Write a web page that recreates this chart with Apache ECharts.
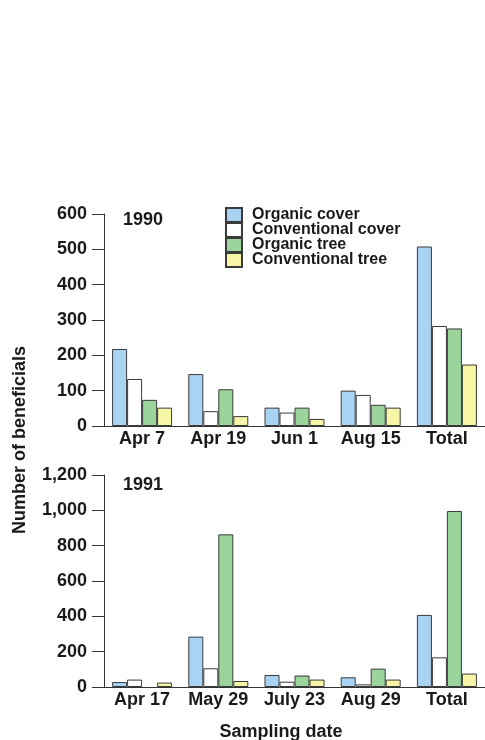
<!DOCTYPE html>
<html>
<head>
<meta charset="utf-8">
<script src="https://cdn.jsdelivr.net/npm/echarts@6/dist/echarts.min.js"></script>
<style>
html,body{margin:0;padding:0;background:#fff;}
#chart{width:485px;height:740px;}
</style>
</head>
<body>
<div id="chart"></div>
<script>
// ---- data ----
var seriesNames = ['Organic cover', 'Conventional cover', 'Organic tree', 'Conventional tree'];
var cats1990 = ['Apr 7', 'Apr 19', 'Jun 1', 'Aug 15', 'Total'];
var organicCover1990 = [218, 147, 52, 100, 508];
var conventionalCover1990 = [133, 42, 38, 88, 283];
var organicTree1990 = [74, 104, 52, 60, 276];
var conventionalTree1990 = [52, 28, 20, 52, 174];
var yTicks1990 = [0, 100, 200, 300, 400, 500, 600];

var cats1991 = ['Apr 17', 'May 29', 'July 23', 'Aug 29', 'Total'];
var organicCover1991 = [28, 285, 68, 55, 408];
var conventionalCover1991 = [42, 106, 30, 15, 168];
var organicTree1991 = [null, 864, 65, 104, 996];
var conventionalTree1991 = [25, 34, 42, 42, 76];
var yTicks1991 = [0, 200, 400, 600, 800, 1000, 1200];

var yTitle = 'Number of beneficials';
var xTitle = 'Sampling date';
var panelLabels = ['1990', '1991'];

// ---- styling ----
var FONT = '"Liberation Sans", Arial, Helvetica, sans-serif';
var TXT = '#1a1a1a';
var colors = ['#a9d3f3', '#ffffff', '#9bd59b', '#f7f5a6'];
var BORDER = '#3a3a3a';

function fmt(v) { return Number(v).toLocaleString('en-US'); }

function xAxisCfg(idx, cats) {
  return {
    type: 'category', gridIndex: idx, data: cats,
    axisLine: { show: true, lineStyle: { color: '#333', width: 1 } },
    axisTick: { show: false },
    axisLabel: { color: TXT, fontFamily: FONT, fontWeight: 'bold', fontSize: 18, margin: 4, interval: 0, hideOverlap: false },
    splitLine: { show: false }
  };
}
function yAxisCfg(idx, ticks) {
  return {
    type: 'value', gridIndex: idx,
    min: ticks[0], max: ticks[ticks.length - 1], interval: ticks[1] - ticks[0],
    axisLine: { show: true, lineStyle: { color: '#333', width: 1 } },
    axisTick: { show: true, inside: false, length: 12, lineStyle: { color: '#333', width: 1 } },
    axisLabel: { color: TXT, fontFamily: FONT, fontWeight: 'bold', fontSize: 18, margin: 17, formatter: fmt },
    splitLine: { show: false }
  };
}

var data1990 = [organicCover1990, conventionalCover1990, organicTree1990, conventionalTree1990];
var data1991 = [organicCover1991, conventionalCover1991, organicTree1991, conventionalTree1991];

var series = [];
[data1990, data1991].forEach(function (set, gi) {
  set.forEach(function (vals, si) {
    series.push({
      name: seriesNames[si], type: 'bar', xAxisIndex: gi, yAxisIndex: gi,
      data: vals, barWidth: 15, barGap: '0%',
      itemStyle: { color: colors[si], borderColor: BORDER, borderWidth: 1 },
      emphasis: { disabled: true },
      animation: false
    });
  });
});

var chart = echarts.init(document.getElementById('chart'), null, { renderer: 'canvas' });
chart.setOption({
  backgroundColor: '#ffffff',
  animation: false,
  grid: [
    { left: 104, right: 0, top: 214, height: 212, containLabel: false },
    { left: 104, right: 0, top: 475, height: 212, containLabel: false }
  ],
  xAxis: [xAxisCfg(0, cats1990), xAxisCfg(1, cats1991)],
  yAxis: [yAxisCfg(0, yTicks1990), yAxisCfg(1, yTicks1991)],
  legend: {
    data: seriesNames, orient: 'vertical', left: 225, top: 207,
    padding: 0, itemGap: -1, itemWidth: 16, itemHeight: 14,
    icon: 'rect',
    textStyle: { color: TXT, fontFamily: FONT, fontWeight: 'bold', fontSize: 16, lineHeight: 14, padding: [0, 0, 0, 5] },
    selectedMode: false
  },
  series: series,
  graphic: [
    { type: 'text', left: 123, top: 211, style: { text: panelLabels[0], fill: TXT, font: 'bold 18px ' + FONT } },
    { type: 'text', left: 123, top: 476, style: { text: panelLabels[1], fill: TXT, font: 'bold 18px ' + FONT } },
    { type: 'text', x: 20, y: 440, rotation: Math.PI / 2,
      style: { text: yTitle, fill: TXT, font: 'bold 18px ' + FONT, textAlign: 'center', textVerticalAlign: 'middle' } },
    { type: 'text', x: 281, y: 732,
      style: { text: xTitle, fill: TXT, font: 'bold 18px ' + FONT, textAlign: 'center', textVerticalAlign: 'middle' } }
  ]
});
</script>
</body>
</html>
